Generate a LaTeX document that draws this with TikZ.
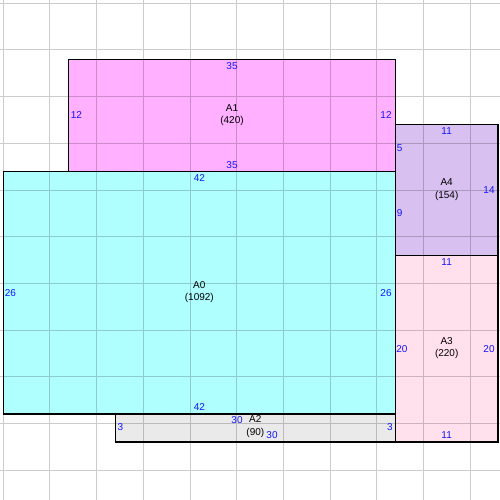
\documentclass[tikz,border=0pt]{standalone}
\usepackage{fontspec}
\setmainfont{Liberation Sans}
\usetikzlibrary{calc}
\definecolor{roomA0}{RGB}{176,255,255}
\definecolor{roomA1}{RGB}{255,176,255}
\definecolor{roomA2}{RGB}{234,234,234}
\definecolor{roomA3}{RGB}{255,224,236}
\definecolor{roomA4}{RGB}{216,192,240}
\definecolor{dimblue}{RGB}{20,20,255}
\tikzset{
	dimlabel/.style={text=dimblue, inner sep=0pt, font=\fontsize{10}{12}\selectfont},
	roomlabel/.style={align=center, inner sep=0pt, font=\fontsize{10}{12.5}\selectfont},
	gridline/.style={black, opacity=.2, line width=1pt},
	roomedge/.style={black, line width=1.1pt},
}
\begin{document}
\begin{tikzpicture}[x=9.333pt, y=-9.333pt]
	\useasboundingbox (-0.357,-0.357) rectangle (53.214,53.214);
	\fill[white] (-0.357,-0.357) rectangle (53.214,53.214);
	% room fills
	\fill[roomA1] (7,6) rectangle (42,18);
	\fill[roomA0] (0,18) rectangle (42,44);
	\fill[roomA4] (42,13) rectangle (53,27);
	\fill[roomA3] (42,27) rectangle (53,47);
	\fill[roomA2] (12,44) rectangle (42,47);
	% grid
	\draw[gridline] \foreach \g in {0,5,...,50} {(\g,-0.357) -- (\g,53.214) (-0.357,\g) -- (53.214,\g)};
	% room edges
	\draw[roomedge] (7,6) rectangle (42,18);
	\draw[roomedge] (0,18) rectangle (42,44);
	\draw[roomedge] (42,13) rectangle (53,27);
	\draw[roomedge] (42,27) rectangle (53,47);
	\draw[roomedge] (12,44) rectangle (42,47);
	% A1
	\node[roomlabel] (a1) at (24.5,11.95) {A1\\(420)};
	\node[dimlabel] (a1n) at (24.5,6.75) {35};
	\node[dimlabel] (a1s) at (24.5,17.3) {35};
	\node[dimlabel] (a1w) at (7.82,12) {12};
	\node[dimlabel] (a1e) at (41,12) {12};
	% A0
	\node[roomlabel] (a0) at (21,30.95) {A0\\(1092)};
	\node[dimlabel] (a0n) at (21,18.7) {42};
	\node[dimlabel] (a0s) at (21,43.25) {42};
	\node[dimlabel] (a0w) at (0.75,31) {26};
	\node[dimlabel] (a0e) at (41,31) {26};
	% A4
	\node[roomlabel] (a4) at (47.5,19.95) {A4\\(154)};
	\node[dimlabel] (a4n) at (47.5,13.68) {11};
	\node[dimlabel] (a4e) at (52.04,20) {14};
	\node[dimlabel] (a4w1) at (42.45,15.5) {5};
	\node[dimlabel] (a4w2) at (42.45,22.5) {9};
	% A3
	\node[roomlabel] (a3) at (47.5,36.95) {A3\\(220)};
	\node[dimlabel] (a3n) at (47.5,27.7) {11};
	\node[dimlabel] (a3s) at (47.5,46.25) {11};
	\node[dimlabel] (a3w) at (42.7,37) {20};
	\node[dimlabel] (a3e) at (52.04,37) {20};
	% A2
	\node[roomlabel] (a2) at (27,45.35) {A2\\(90)};
	\node[dimlabel] (a2n) at (25.04,44.64) {30};
	\node[dimlabel] (a2s) at (28.79,46.25) {30};
	\node[dimlabel] (a2w) at (12.55,45.4) {3};
	\node[dimlabel] (a2e) at (41.43,45.4) {3};
\end{tikzpicture}
\end{document}
